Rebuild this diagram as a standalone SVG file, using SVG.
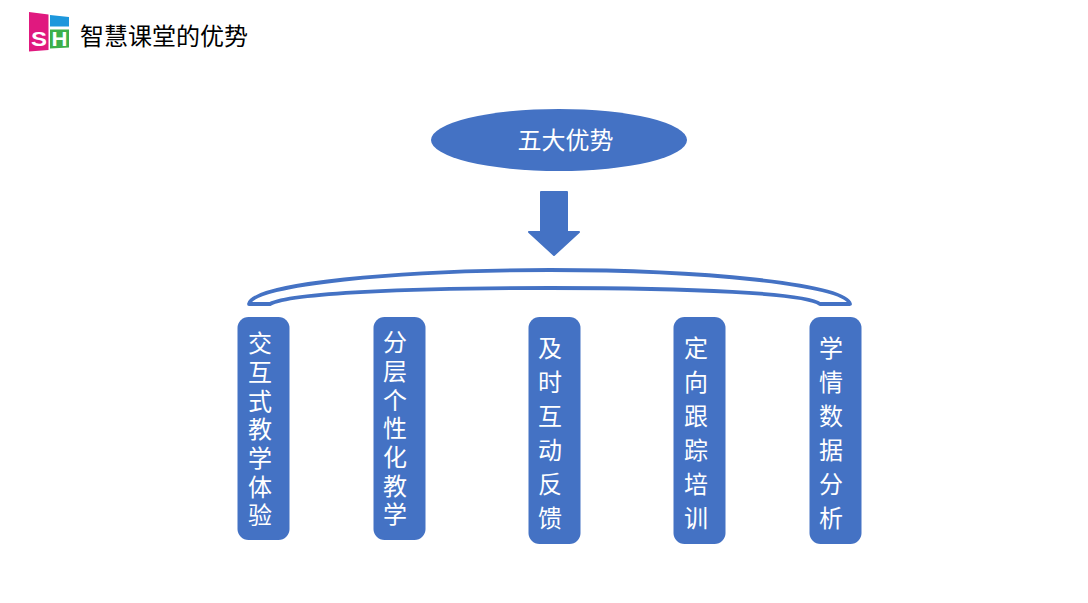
<svg xmlns="http://www.w3.org/2000/svg" width="1088" height="603" viewBox="0 0 1088 603">
<style>
.n{fill:#4472c4}
.t{font-family:"Noto Sans CJK SC","Noto Sans CJK JP",sans-serif;fill:#fff;font-size:24px}
.v{writing-mode:vertical-rl;letter-spacing:4.7px}
.w{writing-mode:vertical-rl;letter-spacing:10px}
.h{font-family:"Noto Sans CJK SC","Noto Sans CJK JP",sans-serif;fill:#000;font-size:24px}
.l{font-family:"Liberation Sans",sans-serif;font-weight:bold;font-size:21px;fill:#fff}
</style>
<rect width="1088" height="603" fill="#fff"/>
<g id="logo">
<polygon points="29,12 48.500,14.500 48.500,50 29,51.500" fill="#e0197f"/>
<polygon points="50,15 69,17 69,26.500 50,26.500" fill="#1d97dc"/>
<polygon points="50,29.500 69,29.500 69,47.500 50,48.500" fill="#3db04a"/>
<text class="l" x="31" y="46" textLength="16" lengthAdjust="spacingAndGlyphs">S</text>
<text class="l" x="51.500" y="46" textLength="16" lengthAdjust="spacingAndGlyphs">H</text>
</g>
<g id="title"><text class="h" x="80" y="45">智慧课堂的优势</text></g>
<g id="top"><ellipse class="n" cx="559" cy="140" rx="128" ry="31"/><text class="t" x="517.500" y="149">五大优势</text></g>
<g id="connectors">
<path class="n" stroke="#4472c4" stroke-width="2" stroke-linejoin="round" d="M541 192H567V232H579L554 255L529 232H541Z"/>
<path d="M249 304C252 284 400 270 550 270C700 270 846 284 850 304H820C806 293 690 288 550 288C410 288 290 293 270 304Z" fill="#fff" stroke="#4472c4" stroke-width="3.800" stroke-linejoin="round"/>
</g>
<g id="n1"><rect class="n" x="237.500" y="317" width="52" height="223" rx="11"/><text class="t v" x="260" y="331">交互式教学体验</text></g>
<g id="n2"><rect class="n" x="373.500" y="317" width="52" height="223" rx="11"/><text class="t v" x="395" y="330">分层个性化教学</text></g>
<g id="n3"><rect class="n" x="528.500" y="317" width="52" height="227" rx="11"/><text class="t w" x="550" y="336">及时互动反馈</text></g>
<g id="n4"><rect class="n" x="673.500" y="317" width="52" height="227" rx="11"/><text class="t w" x="696" y="336">定向跟踪培训</text></g>
<g id="n5"><rect class="n" x="809.500" y="317" width="52" height="227" rx="11"/><text class="t w" x="831" y="336">学情数据分析</text></g>
</svg>
